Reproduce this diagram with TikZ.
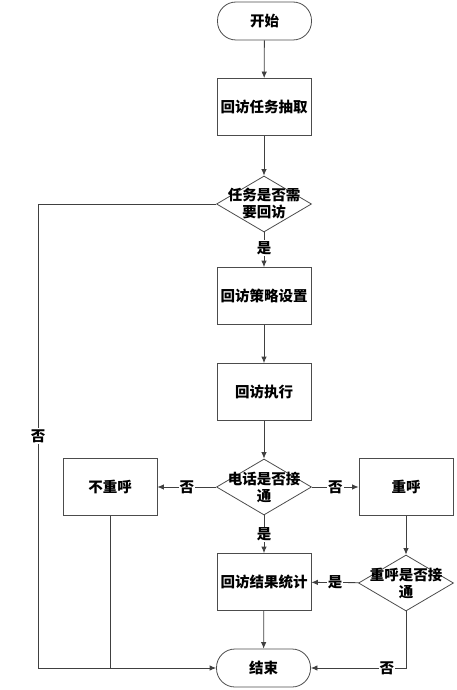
\documentclass[tikz,border=0pt]{standalone}
\usepackage{fontspec}
\newfontfamily\cjk{Noto Sans CJK SC}
\usetikzlibrary{shapes.geometric,arrows.meta}
\begin{document}
\begin{tikzpicture}[
  x=1pt, y=-1pt,
  font=\cjk\bfseries\fontsize{14.5}{17}\selectfont,
  line/.style={draw=black!75,line width=0.8pt},
  arr/.style={line,-{Latex[length=6.5pt,width=5.5pt]}},
  term/.style={draw=black!70,line width=0.8pt,rounded corners=18.5pt,
    minimum width=94pt,minimum height=38pt,inner sep=0pt},
  proc/.style={draw=black!70,line width=0.8pt,
    minimum width=94pt,minimum height=57pt,inner sep=0pt},
  dec/.style={draw=black!70,line width=0.8pt,diamond,
    minimum width=95pt,minimum height=56pt,inner sep=0pt},
  tag/.style={fill=white,inner sep=1pt}]
\useasboundingbox (0,0) rectangle (456,690);
\node[term] (start) at (264.5,21) {开始};
\node[proc] (task) at (264,107) {回访任务抽取};
\node[dec,label={[align=center]center:任务是否需\\要回访}] (d1) at (264,204) {};
\node[proc] (strat) at (264,296) {回访策略设置};
\node[proc] (exec) at (264,392) {回访执行};
\node[dec,label={[align=center]center:电话是否接\\通}] (d2) at (264,487) {};
\node[proc] (noredial) at (110,487) {不重呼};
\node[proc] (redial) at (406,487) {重呼};
\node[proc] (stat) at (264,582) {回访结果统计};
\node[dec,label={[align=center]center:重呼是否接\\通}] (d3) at (406,583) {};
\node[term] (end) at (263.5,668) {结束};
\coordinate (lcorner) at (38,668);
\coordinate (join) at (noredial.south |- end.west);
\draw[arr] (start) -- (task);
\draw[arr] (task) -- (d1);
\draw[arr] (d1) -- node[tag,pos=0.45] {是} (strat);
\draw[arr] (strat) -- (exec);
\draw[arr] (exec) -- (d2);
\draw[arr] (d2) -- node[tag] {否} (noredial);
\draw[arr] (d2) -- node[tag] {否} (redial);
\draw[arr] (d2) -- node[tag] {是} (stat);
\draw[arr] (redial) -- (d3);
\draw[arr] (d3) -- node[tag] {是} (stat);
\draw[arr] (stat) -- (end);
\draw[arr] (d3.south) |- node[tag,pos=0.6] {否} (end.east);
\draw[line] (d1.west) -| node[tag,pos=0.75] {否} (lcorner);
\draw[arr] (lcorner) -- (end.west);
\draw[line] (noredial.south) -- (join);
\end{tikzpicture}
\end{document}
